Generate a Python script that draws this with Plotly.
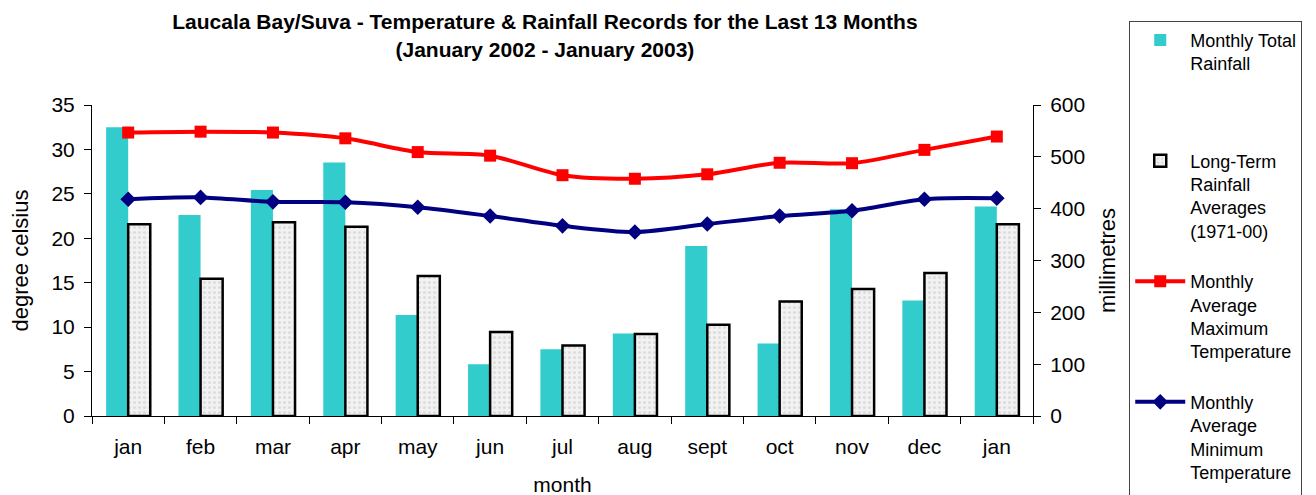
import plotly.graph_objects as go

months = ["jan", "feb", "mar", "apr", "may", "jun", "jul", "aug", "sept", "oct", "nov", "dec", "jan"]
rain_total = [557, 388, 436, 489, 195, 100, 129, 159, 328, 140, 399, 223, 404]
rain_avg = [370, 265, 374, 365, 270, 162, 136, 158, 176, 221, 245, 276, 370]
tmax = [31.9, 32.0, 31.9, 31.25, 29.7, 29.3, 27.1, 26.7, 27.2, 28.5, 28.45, 29.95, 31.45]
tmin = [24.4, 24.6, 24.1, 24.05, 23.5, 22.5, 21.4, 20.7, 21.6, 22.5, 23.1, 24.4, 24.5]

x = list(range(len(months)))
FONT = "Arial, Liberation Sans, sans-serif"

fig = go.Figure()
fig.add_trace(go.Bar(
    x=x, y=rain_total, name="Monthly Total<br>Rainfall<br> <br> ",
    marker=dict(color="#33CCCC", line=dict(width=0)),
    yaxis="y", legendgroup="a",
))
fig.add_trace(go.Bar(
    x=x, y=rain_avg, name="Long-Term<br>Rainfall<br>Averages<br>(1971-00)",
    marker=dict(color="#f0f0f0", line=dict(color="black", width=2.5),
                pattern=dict(shape=".", fgcolor="#c8c8c8", bgcolor="#f2f2f2", size=5, solidity=0.3)),
    yaxis="y", legendgroup="b",
))
fig.add_trace(go.Scatter(
    x=x, y=tmax, name="Monthly<br>Average<br>Maximum<br>Temperature",
    mode="lines+markers", line=dict(color="#FF0000", width=4, shape="spline", smoothing=0.8),
    marker=dict(symbol="square", size=12, color="#FF0000"),
    yaxis="y2", legendgroup="c",
))
fig.add_trace(go.Scatter(
    x=x, y=tmin, name="Monthly<br>Average<br>Minimum<br>Temperature<br> ",
    mode="lines+markers", line=dict(color="#000080", width=4, shape="spline", smoothing=0.8),
    marker=dict(symbol="diamond", size=12, color="#000080"),
    yaxis="y2", legendgroup="d",
))

fig.update_layout(
    width=1316, height=495,
    margin=dict(l=84, r=291, t=97, b=87),
    paper_bgcolor="white", plot_bgcolor="white",
    font=dict(family=FONT, color="black", size=21),
    barmode="group", bargap=0.39, bargroupgap=0,
    title=dict(
        text="<b>Laucala Bay/Suva - Temperature & Rainfall Records for the Last 13 Months<br>(January 2002 - January 2003)</b>",
        x=0.408, xanchor="center", y=0.957, yanchor="middle", xref="container", yref="container",
        font=dict(size=21, family=FONT, color="black"),
    ),
    xaxis=dict(
        range=[-0.5, 12.5], tickmode="array", tickvals=x, ticktext=months,
        ticks="", showline=True, linecolor="black", linewidth=1, showgrid=False, zeroline=False,
        minor=dict(tickmode="linear", tick0=0.5, dtick=1, ticks="outside", ticklen=7, tickcolor="black", showgrid=False),
        title=dict(text="month", font=dict(size=21), standoff=20),
        tickfont=dict(size=21), ticklabelstandoff=12, automargin=False,
    ),
    yaxis=dict(
        side="right", range=[0, 600], dtick=100, ticks="outside", ticklen=7, tickcolor="black",
        showline=True, linecolor="black", linewidth=1, showgrid=False, zeroline=False,
        title=dict(text="millimetres", font=dict(size=22), standoff=15),
        tickfont=dict(size=21), ticklabelstandoff=5, automargin=False,
    ),
    yaxis2=dict(
        side="left", overlaying="y", range=[0, 35], dtick=5, ticks="outside", ticklen=7, tickcolor="black",
        showline=True, linecolor="black", linewidth=1, showgrid=False, zeroline=False,
        title=dict(text="degree celsius", font=dict(size=22), standoff=27),
        tickfont=dict(size=21), ticklabelstandoff=5, automargin=False,
    ),
    legend=dict(
        x=0.852, y=0.974, xref="container", yref="container", xanchor="left", yanchor="top",
        bordercolor="#444444", borderwidth=1, bgcolor="white",
        font=dict(size=18, family=FONT), valign="top",
        tracegroupgap=24, itemwidth=50, traceorder="grouped", maxheight=800,
    ),
    showlegend=True,
)

fig.write_html("out.html")
